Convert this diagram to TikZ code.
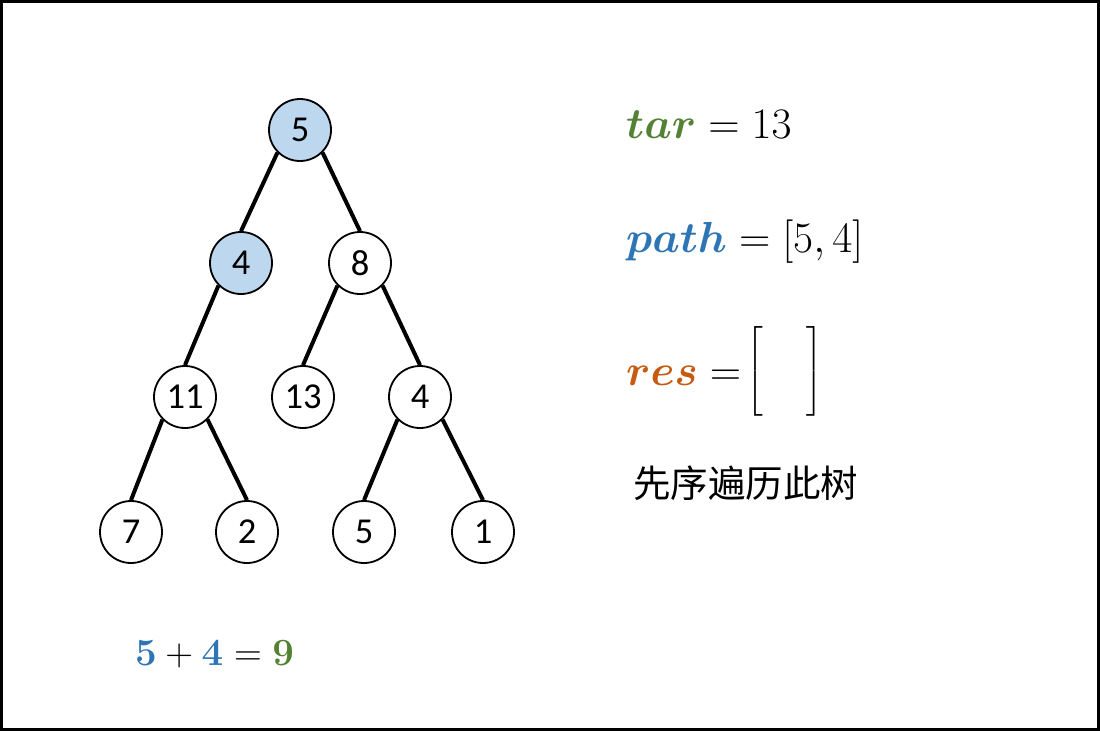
\RequirePackage{fix-cm}
\documentclass[tikz,border=0pt]{standalone}
\usepackage{amsmath}
\usepackage{bm}
\usepackage{fontspec}
\newfontfamily\nodefont{Carlito}
\newfontfamily\cjk{Noto Sans CJK SC}
\definecolor{tgreen}{HTML}{548235}
\definecolor{tblue}{HTML}{2E75B6}
\definecolor{torange}{HTML}{C55A11}
\definecolor{tfill}{HTML}{BDD7EE}
\begin{document}
\begin{tikzpicture}[x=1pt,y=-1pt,
  tn/.style={circle,draw=black,line width=1.8pt,fill=white,minimum size=62pt,inner sep=0pt,font=\nodefont\fontsize{36.5}{36.5}\selectfont},
  hl/.style={fill=tfill},
  edge/.style={line width=4pt},
  mathtxt/.style={anchor=base west,inner sep=0pt,font=\fontsize{43.5}{43.5}\selectfont}]
\draw[line width=3pt] (1.5,1.5) rectangle (1098.5,729.5);
\useasboundingbox (0,0) rectangle (1100,731);
\node[tn,hl] (n5) at (300,130) {5};
\node[tn,hl] (n4) at (241,263) {4};
\node[tn] (n8) at (360,263) {8};
\node[tn] (n11) at (185,397) {11};
\node[tn] (n13) at (303,397) {13};
\node[tn] (n4b) at (420,397) {4};
\node[tn] (n7) at (131,532) {7};
\node[tn] (n2) at (247,532) {2};
\node[tn] (n5b) at (364,532) {5};
\node[tn] (n1) at (483,532) {1};
\draw[edge] (n5.south west) -- (n4.north);
\draw[edge] (n5.south east) -- (n8.north);
\draw[edge] (n4.south west) -- (n11.north);
\draw[edge] (n8.south west) -- (n13.north);
\draw[edge] (n8.south east) -- (n4b.north);
\draw[edge] (n11.south west) -- (n7.north);
\draw[edge] (n11.south east) -- (n2.north);
\draw[edge] (n4b.south west) -- (n5b.north);
\draw[edge] (n4b.south east) -- (n1.north);
\node[mathtxt] (tar) at (626,138) {$\color{tgreen}\bm{tar}\color{black} = 13$};
\node[mathtxt] (path) at (626,252) {$\color{tblue}\bm{path}\color{black} = [5,4]$};
\node[mathtxt] (res) at (626,385) {$\color{torange}\bm{res}\color{black} = \mkern-3mu \raisebox{3pt}{$\left[\rule[-0.66em]{0pt}{1.85em}\hspace{1.0em}\right]$}$};
\node[anchor=base west,inner sep=0pt,font=\cjk\fontsize{37.5}{37.5}\selectfont] (pre) at (633,497) {先序遍历此树};
\node[mathtxt,font=\fontsize{38.5}{38.5}\selectfont] (sum) at (135,665) {$\color{tblue}\bm{5}\color{black} + \color{tblue}\bm{4}\color{black} = \color{tgreen}\bm{9}$};
\end{tikzpicture}
\end{document}
